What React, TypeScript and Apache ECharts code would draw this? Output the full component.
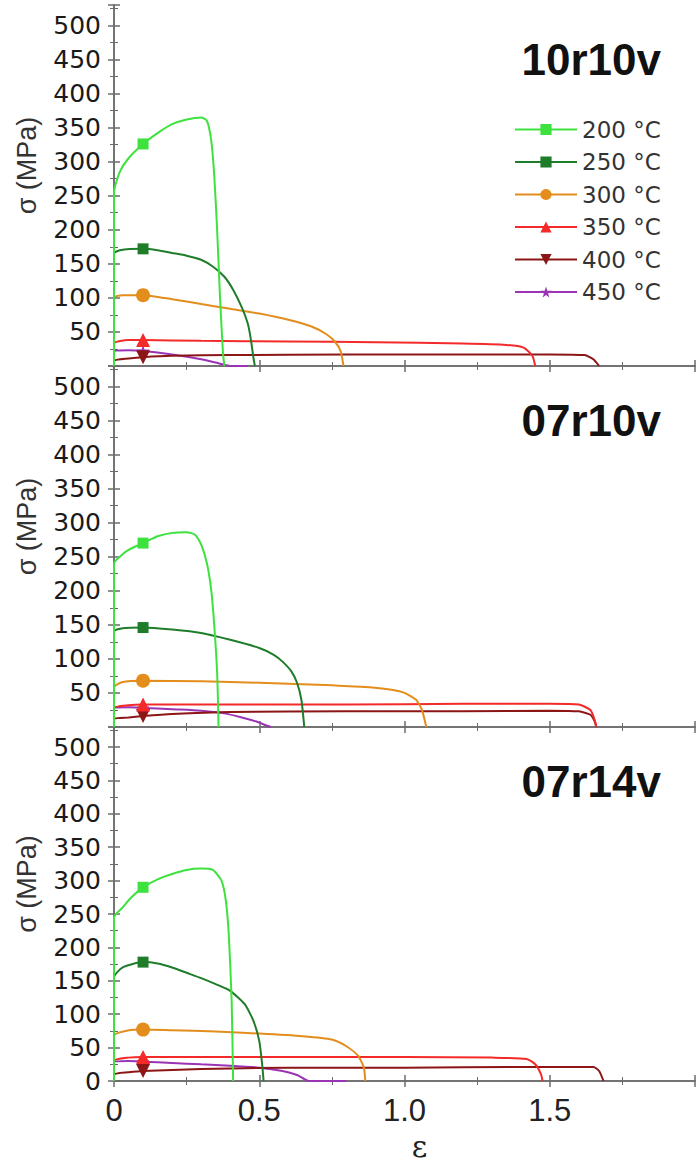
import React, { useEffect, useRef } from 'react';
import * as echarts from 'echarts';

const temperatures = ['200 °C', '250 °C', '300 °C', '350 °C', '400 °C', '450 °C'];
const panelTitles = ['10r10v', '07r10v', '07r14v'];
const xTickLabels = ['0', '0.5', '1.0', '1.5'];
const MARK_X = 0.1;

// Panel 1: 10r10v
const p1T200 = [[0,0],[0,255],[0.02,285],[0.05,305],[0.1,326],[0.15,342],[0.2,355],[0.25,362],[0.3,365],[0.32,360],[0.335,330],[0.345,280],[0.355,200],[0.365,100],[0.375,20],[0.38,0]];
const p1T250 = [[0,0],[0,165],[0.02,170],[0.1,172],[0.15,170],[0.2,166],[0.25,162],[0.3,156],[0.34,146],[0.38,131],[0.41,112],[0.44,86],[0.46,63],[0.47,42],[0.48,12],[0.485,0]];
const p1T300 = [[0,0],[0,100],[0.03,104],[0.1,104],[0.2,98],[0.3,91],[0.4,84],[0.5,77],[0.6,68],[0.68,58],[0.73,47],[0.76,36],[0.78,22],[0.79,0]];
const p1T350 = [[0,0],[0,33],[0.05,38],[0.1,38],[0.3,37],[0.6,36],[0.9,35],[1.2,33],[1.35,31],[1.41,27],[1.44,15],[1.45,0]];
const p1T400 = [[0,0],[0,8],[0.05,11],[0.1,13],[0.2,15],[0.4,16],[0.8,17],[1.2,17],[1.5,17],[1.62,16],[1.65,10],[1.67,0]];
const p1T450 = [[0,0],[0,22],[0.05,23],[0.1,22],[0.2,17],[0.3,10],[0.35,5],[0.4,0],[0.46,0]];

// Panel 2: 07r10v
const p2T200 = [[0,0],[0,240],[0.02,250],[0.05,260],[0.1,270],[0.15,280],[0.2,285],[0.25,286],[0.28,282],[0.3,268],[0.32,240],[0.335,200],[0.345,150],[0.355,80],[0.36,0]];
const p2T250 = [[0,0],[0,140],[0.03,145],[0.1,146],[0.2,143],[0.3,138],[0.4,128],[0.5,116],[0.55,106],[0.58,96],[0.61,82],[0.63,65],[0.645,40],[0.655,0]];
const p2T300 = [[0,0],[0,58],[0.03,66],[0.1,68],[0.3,67],[0.5,65],[0.7,62],[0.85,59],[0.95,55],[1.0,50],[1.04,40],[1.06,25],[1.075,0]];
const p2T350 = [[0,0],[0,28],[0.05,32],[0.1,33],[0.4,33],[0.8,33],[1.2,34],[1.5,34],[1.6,33],[1.64,25],[1.655,10],[1.66,0]];
const p2T400 = [[0,0],[0,12],[0.05,14],[0.1,16],[0.2,19],[0.4,22],[0.8,23],[1.2,23],[1.5,24],[1.6,23],[1.64,18],[1.655,8],[1.66,0]];
const p2T450 = [[0,0],[0,27],[0.05,29],[0.1,28],[0.2,26],[0.3,24],[0.38,20],[0.44,14],[0.49,8],[0.52,3],[0.54,0]];

// Panel 3: 07r14v
const p3T200 = [[0,0],[0,245],[0.03,260],[0.06,275],[0.1,290],[0.15,302],[0.2,310],[0.25,316],[0.3,318],[0.34,316],[0.37,300],[0.385,270],[0.395,220],[0.405,120],[0.41,0]];
const p3T250 = [[0,0],[0,155],[0.03,170],[0.1,178],[0.15,176],[0.2,170],[0.25,162],[0.3,154],[0.35,145],[0.4,135],[0.45,115],[0.48,90],[0.5,60],[0.51,25],[0.515,0]];
const p3T300 = [[0,0],[0,68],[0.04,75],[0.1,77],[0.2,76],[0.35,74],[0.5,71],[0.65,67],[0.75,62],[0.8,52],[0.84,38],[0.86,20],[0.865,0]];
const p3T350 = [[0,0],[0,30],[0.05,35],[0.1,36],[0.5,36],[1.0,36],[1.3,35],[1.42,33],[1.45,25],[1.47,10],[1.475,0]];
const p3T400 = [[0,0],[0,10],[0.05,13],[0.1,15],[0.3,18],[0.6,20],[1.0,20],[1.4,21],[1.65,21],[1.67,15],[1.685,0]];
const p3T450 = [[0,0],[0,28],[0.05,30],[0.1,29],[0.2,27],[0.3,25],[0.4,23],[0.5,20],[0.58,15],[0.63,9],[0.655,3],[0.67,0],[0.8,0]];

const panelData = [
  [p1T200, p1T250, p1T300, p1T350, p1T400, p1T450],
  [p2T200, p2T250, p2T300, p2T350, p2T400, p2T450],
  [p3T200, p3T250, p3T300, p3T350, p3T400, p3T450],
];

const colors = ['#3ee23e', '#1f7d2a', '#e38d1c', '#f42a2a', '#8c1616', '#9a34b5'];
const STAR = 'path://M50,0 L61,35 L98,35 L68,57 L79,91 L50,70 L21,91 L32,57 L2,35 L39,35 Z';
const symbols = ['rect', 'rect', 'circle', 'triangle', 'triangle', STAR];
const symbolRotates = [0, 0, 0, 0, 180, 0];
const symbolSizes = [11, 11, 14, 14, 14, 13];

const GRID_LEFT = 114;
const GRID_WIDTH = 581;
const GRID_TOPS = [5, 366, 727];
const GRID_HEIGHT = 361;
const Y_MAX = 530;
const X_MAX = 2;

export default function App() {
  const ref = useRef<HTMLDivElement>(null);
  useEffect(() => {
    if (!ref.current) return;
    const chart = echarts.init(ref.current, null, { renderer: 'svg' });
    const axisLineStyle = { color: '#6b6b6b', width: 1.5 };
    const grids = GRID_TOPS.map((top) => ({ left: GRID_LEFT, top, width: GRID_WIDTH, height: GRID_HEIGHT }));
    const xAxes: any[] = [];
    const yAxes: any[] = [];
    for (let i = 0; i < 3; i++) {
      xAxes.push({
        type: 'value', gridIndex: i, min: 0, max: X_MAX, interval: 0.5, position: 'bottom',
        axisLine: { show: true, lineStyle: axisLineStyle },
        axisTick: { show: true, inside: true, length: 6, lineStyle: axisLineStyle },
        minorTick: { show: true, splitNumber: 2, length: 4, lineStyle: { color: '#6b6b6b' } },
        splitLine: { show: false },
        axisLabel: i === 2 ? {
          show: true, margin: 14, fontSize: 31, color: '#222', fontFamily: 'Liberation Sans, Arial, sans-serif',
          formatter: (v: number) => { const idx = Math.round(v / 0.5); return xTickLabels[idx] ?? ''; },
        } : { show: false },
        name: i === 2 ? 'ε' : '', nameLocation: 'middle', nameGap: 50,
        nameTextStyle: { fontSize: 30, color: '#222', fontFamily: 'DejaVu Serif, serif', padding: [0, 0, 0, 30] },
      });
      yAxes.push({
        type: 'value', gridIndex: i, min: 0, max: Y_MAX, interval: 50, position: 'left',
        axisLine: { show: true, lineStyle: axisLineStyle },
        axisTick: { show: true, inside: true, length: 6, lineStyle: axisLineStyle },
        minorTick: { show: true, splitNumber: 2, length: 4, lineStyle: { color: '#6b6b6b' } },
        splitLine: { show: false },
        axisLabel: {
          show: true, margin: 13, fontSize: 25, color: '#1a1a1a', fontFamily: 'DejaVu Sans, sans-serif',
          formatter: (v: number) => (v === 0 && i < 2 ? '' : String(v)),
        },
        name: 'σ (MPa)', nameLocation: 'middle', nameGap: 74, nameRotate: 90,
        nameTextStyle: { fontSize: 27, color: '#333', fontFamily: 'Liberation Sans, Arial, sans-serif', padding: [0, 0, 0, 40] },
      });
    }
    for (let i = 0; i < 3; i++) {
      xAxes.push({
        type: 'value', gridIndex: i, min: 0, max: X_MAX, interval: 0.5, position: 'top',
        axisLine: { show: true, lineStyle: axisLineStyle },
        axisTick: { show: true, inside: true, length: 6, lineStyle: axisLineStyle },
        minorTick: { show: true, splitNumber: 2, length: 4, lineStyle: { color: '#6b6b6b' } },
        splitLine: { show: false }, axisLabel: { show: false },
      });
      yAxes.push({
        type: 'value', gridIndex: i, min: 0, max: Y_MAX, interval: 50, position: 'right',
        axisLine: { show: true, lineStyle: axisLineStyle },
        axisTick: { show: true, inside: true, length: 6, lineStyle: axisLineStyle },
        minorTick: { show: true, splitNumber: 2, length: 4, lineStyle: { color: '#6b6b6b' } },
        splitLine: { show: false }, axisLabel: { show: false },
      });
    }
    const series: any[] = [];
    panelData.forEach((curves, p) => {
      curves.forEach((pts, k) => {
        series.push({
          type: 'line', name: temperatures[k], xAxisIndex: p, yAxisIndex: p,
          data: pts, smooth: 0.2, showSymbol: true,
          symbol: symbols[k], symbolRotate: symbolRotates[k],
          symbolSize: (val: number[]) => (val[0] === MARK_X && val[1] > 0 ? symbolSizes[k] : 0),
          lineStyle: { color: colors[k], width: 2 },
          itemStyle: { color: colors[k], borderWidth: 0 },
          z: 10 - k,
        });
      });
    });
    chart.setOption({
      animation: false,
      backgroundColor: '#ffffff',
      title: panelTitles.map((t, i) => ({
        text: t, right: 34, top: GRID_TOPS[i] + 27,
        textStyle: { fontSize: 44, fontWeight: 'bold', color: '#111', fontFamily: 'Liberation Sans, Arial, sans-serif' },
      })),
      legend: {
        data: temperatures, orient: 'vertical', left: 509, top: 113,
        itemWidth: 62, itemHeight: 14, itemGap: 9.5,
        textStyle: { fontSize: 23, color: '#333', lineHeight: 21, fontFamily: 'DejaVu Sans, sans-serif' },
      },
      grid: grids,
      xAxis: xAxes,
      yAxis: yAxes,
      series,
    });
    return () => chart.dispose();
  }, []);
  return <div ref={ref} style={{ position: 'absolute', left: 0, top: 0, width: 700, height: 1162 }} />;
}
